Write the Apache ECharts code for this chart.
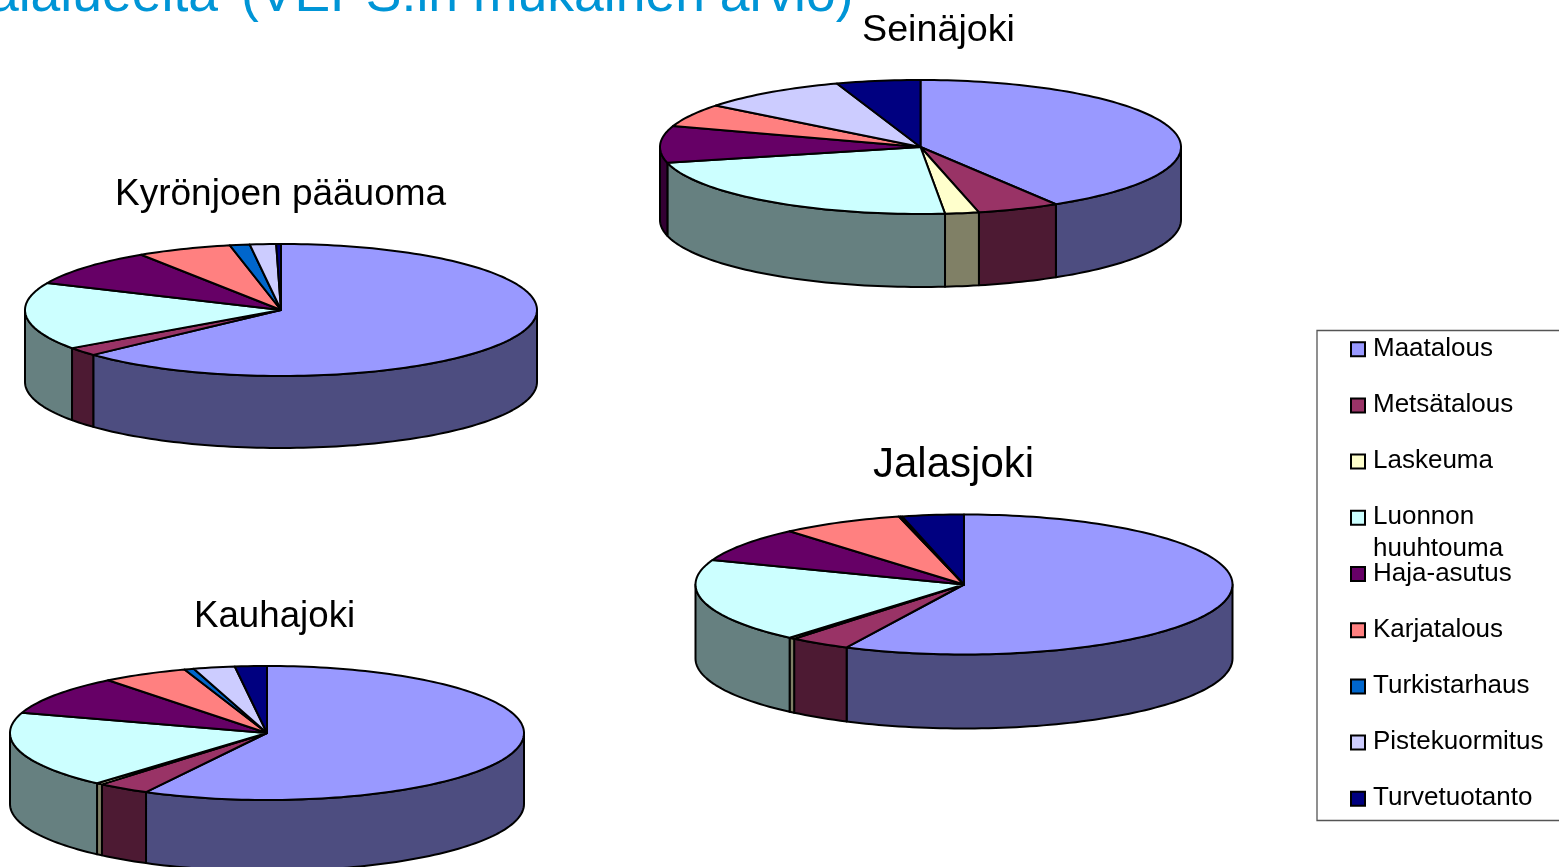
<!DOCTYPE html>
<html>
<head>
<meta charset="utf-8">
<title>Kuormitus</title>
<script src="https://cdn.jsdelivr.net/npm/echarts@6/dist/echarts.min.js"></script>
<style>
  html, body { margin: 0; padding: 0; background: #fff; overflow: hidden; }
  #chart { width: 1559px; height: 867px; }
</style>
</head>
<body>
<div id="chart"></div>
<script>
const categories = ['Maatalous', 'Metsätalous', 'Laskeuma', 'Luonnon\nhuuhtouma', 'Haja-asutus', 'Karjatalous', 'Turkistarhaus', 'Pistekuormitus', 'Turvetuotanto']

// shares in percent
const seinajoki = [41.3, 5.1, 2.1, 22.7, 8.9, 5.5, 0, 9.2, 5.2]
const kyronjoki = [63.1, 2.1, 0, 16.5, 9.1, 6.0, 1.25, 1.65, 0.3]
const jalasjoki = [57.2, 3.7, 0.35, 19.45, 8.05, 7.35, 0.1, 0.1, 3.7]
const kauhajoki = [57.8, 3.3, 0.4, 18.4, 9.5, 5.4, 0.6, 2.6, 2.0]

const topColors = ['#9999ff', '#993366', '#ffffcc', '#ccffff', '#660066', '#ff8080', '#0066cc', '#ccccff', '#000080']
const sideColors = ['#4d4d80', '#4d1a33', '#808066', '#668080', '#330033', '#804040', '#003366', '#666680', '#000040']

const FONT = '"Liberation Sans", Arial, sans-serif'

const pies = [
  { name: 'Seinäjoki', values: seinajoki, cx: 920.5, cy: 147, rx: 260.5, ry: 67, depth: 73, titleX: 862, titleY: 12, titleSize: 37.7 },
  { name: 'Kyrönjoen pääuoma', values: kyronjoki, cx: 281, cy: 310, rx: 256, ry: 66, depth: 72, titleX: 115, titleY: 176, titleSize: 37 },
  { name: 'Jalasjoki', values: jalasjoki, cx: 964, cy: 584.5, rx: 268.5, ry: 70, depth: 74, titleX: 873, titleY: 444, titleSize: 42 },
  { name: 'Kauhajoki', values: kauhajoki, cx: 267, cy: 733, rx: 257, ry: 67, depth: 71, titleX: 194, titleY: 598, titleSize: 36.7 }
]

const toRad = deg => deg * Math.PI / 180

// point on the rim, angle clockwise from 12 o'clock
const rimPoint = (pie, deg, drop = 0) => [
  pie.cx + pie.rx * Math.sin(toRad(deg)),
  pie.cy - pie.ry * Math.cos(toRad(deg)) + drop
]

const arcPoints = (pie, from, to, drop = 0) => {
  const steps = Math.max(2, Math.ceil((to - from) / 1.5))
  const pts = []
  for (let i = 0; i <= steps; i++) pts.push(rimPoint(pie, from + (to - from) * i / steps, drop))
  return pts
}

// [share, cumulative share before this slice]
const sliceData = values => {
  let sum = 0
  return values.map(v => {
    const row = [v, sum]
    sum += v
    return row
  })
}

const edgeStyle = color => ({ fill: color, stroke: '#000', lineWidth: 2, lineJoin: 'round' })

const topSeries = pie => ({
  type: 'custom',
  coordinateSystem: 'none',
  silent: true,
  data: sliceData(pie.values),
  renderItem: (params, api) => {
    const v = api.value(0)
    if (!v) return null
    const from = api.value(1) * 3.6
    const pts = [[pie.cx, pie.cy]].concat(arcPoints(pie, from, from + v * 3.6))
    return { type: 'polygon', shape: { points: pts }, style: edgeStyle(topColors[params.dataIndex]) }
  }
})

// only the front half of the rim is visible
const sideSeries = pie => ({
  type: 'custom',
  coordinateSystem: 'none',
  silent: true,
  data: sliceData(pie.values),
  renderItem: (params, api) => {
    const v = api.value(0)
    const from = Math.max(api.value(1) * 3.6, 90)
    const to = Math.min((api.value(1) + v) * 3.6, 270)
    if (!v || to <= from) return null
    const pts = arcPoints(pie, from, to).concat(arcPoints(pie, from, to, pie.depth).reverse())
    return { type: 'polygon', shape: { points: pts }, style: edgeStyle(sideColors[params.dataIndex]) }
  }
})

const legendItems = [{
  type: 'rect',
  shape: { x: 1317, y: 330.5, width: 260, height: 490 },
  style: { fill: '#fff', stroke: '#555', lineWidth: 1.3 }
}]
categories.forEach((name, i) => {
  const rowY = 349.2 + i * 56.2
  legendItems.push({
    type: 'rect',
    shape: { x: 1351, y: rowY - 7, width: 14, height: 14 },
    style: { fill: topColors[i], stroke: '#000', lineWidth: 2 }
  })
  legendItems.push({
    type: 'text',
    x: 1373,
    y: rowY - 16.5,
    style: { text: name, font: '26px ' + FONT, fill: '#000', lineHeight: 32, verticalAlign: 'top' }
  })
})

const headingStyle = { fontFamily: FONT, fontSize: 53.5, fontWeight: 'normal', color: '#0095d6' }

const option = {
  animation: false,
  backgroundColor: '#fff',
  title: [
    { text: 'alalueelta', right: 1559 - 218, top: -31, padding: 0, textStyle: headingStyle },
    { text: '(VEPS:in mukainen arvio)', left: 241, top: -31, padding: 0, textStyle: headingStyle }
  ].concat(pies.map(p => ({
    text: p.name,
    left: p.titleX,
    top: p.titleY,
    padding: 0,
    textStyle: { fontFamily: FONT, fontSize: p.titleSize, fontWeight: 'normal', color: '#000' }
  }))),
  graphic: legendItems,
  series: pies.flatMap(p => [sideSeries(p), topSeries(p)])
}

const chart = echarts.init(document.getElementById('chart'))
chart.setOption(option)
window.addEventListener('resize', () => chart.resize())
</script>
</body>
</html>
